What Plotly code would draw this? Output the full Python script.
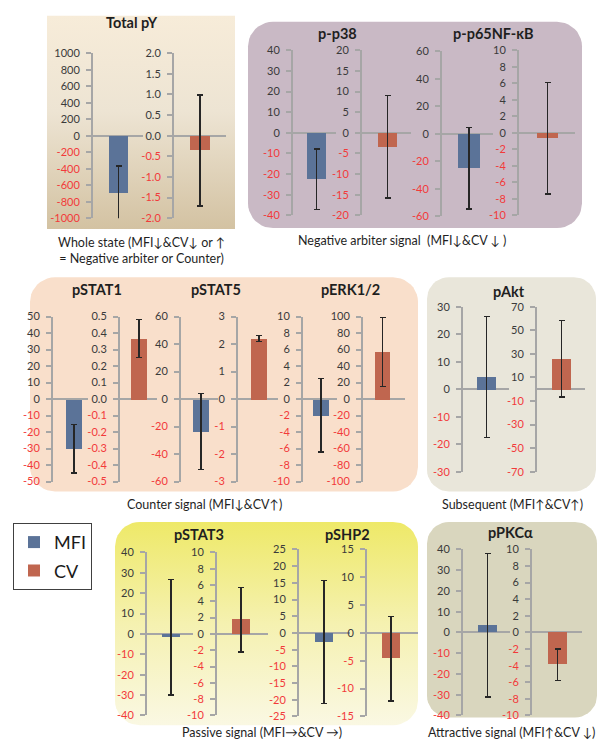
import math
import plotly.graph_objects as go

W, H = 601, 749

# ---------------- data ----------------
proteins = ["Total pY", "p-p38", "p-p65NF-κB", "pSTAT1", "pSTAT5",
            "pERK1/2", "pAkt", "pSTAT3", "pSHP2", "pPKCα"]
mfi_values = [-702, -22.5, -25, -30.1, -23.5, -1.95, 4.4, -1.7, -2.7, 3.4]
mfi_errors = [337, 14.6, 29.7, 14.6, 27.8, 4.45, 22, 28.3, 18.5, 34.5]
cv_values = [-0.355, -3.4, -0.65, 0.365, 2.2, 57, 26, 1.75, -4.6, -3.9]
cv_errors = [1.345, 12.4, 6.75, 0.115, 0.1, 42, 32.5, 3.95, 7.6, 1.9]

mfi_axis_max = [1000, 40, 60, 50, 60, 10, 30, 40, 25, 40]
mfi_tick_step = [200, 10, 20, 10, 20, 2, 10, 10, 5, 10]
mfi_decimals = [0, 0, 0, 0, 0, 0, 0, 0, 0, 0]
cv_axis_max = [2.0, 20, 10, 0.5, 3, 100, 70, 10, 15, 10]
cv_tick_step = [0.5, 5, 2, 0.1, 1, 20, 20, 2, 5, 2]
cv_decimals = [1, 0, 0, 1, 0, 0, 0, 0, 0, 0]

series_names = ["MFI", "CV"]
group_labels = [
    "Whole state (MFI↓&CV↓ or ↑<br>= Negative arbiter or Counter)",
    "Negative arbiter signal  (MFI↓&CV ↓ )",
    "Counter signal (MFI↓&CV↑)",
    "Subsequent (MFI↑&CV↑)",
    "Passive signal (MFI→&CV →)",
    "Attractive signal (MFI↑&CV ↓)",
]

# ---------------- layout geometry (pixels) ----------------
# per mini chart: axis x, zero-line end x, top y, bottom y, bar left, bar right
mfi_boxes = [
    (93, 143, 47, 215, 109, 128),
    (293, 336, 44, 212, 307, 326),
    (442, 493, 45, 213, 458, 480),
    (53, 88, 315, 483, 66, 82),
    (181, 218, 315, 483, 193, 209),
    (303, 337, 315, 483, 313, 329),
    (463, 509, 305, 473, 477, 496),
    (147, 193, 555, 721, 162, 180),
    (299, 350, 552, 722, 315, 333),
    (463, 510, 552, 721, 478, 497),
]
cv_boxes = [
    (174, 226, 47, 215, 190, 210),
    (362, 411, 44, 212, 378, 397),
    (519, 575, 44, 212, 537, 558),
    (120, 157, 315, 483, 131, 147),
    (238, 278, 315, 483, 251, 267),
    (363, 405, 315, 483, 375, 390),
    (537, 585, 305, 473, 552, 571),
    (217, 268, 555, 721, 232, 250),
    (367, 418, 552, 722, 382, 400),
    (532, 582, 552, 721, 548, 567),
]
title_pos = [(132, 16), (338, 27), (493, 27), (97, 287), (216, 287),
             (350, 287), (509, 290), (199, 537), (347, 537), (510, 535)]
group_pos = [(141, 248), (402, 238), (205, 506), (512, 506), (262, 738), (511, 738)]

panels = [  # x0, y0, x1, y1, radius, colors (bottom -> top)
    (47, 9, 235, 226, 0, [[0, "#d3c2a2"], [0.55, "#ede4d3"], [1, "#f7ecd9"]]),
    (248, 15, 582, 225, 25, "#c9b9c5"),
    (30, 275, 418, 493, 25, "#f9dfcb"),
    (427, 275, 596, 493, 22, "#e9e6da"),
    (115, 524, 418, 731, 25, [[0, "#faf8e3"], [0.5, "#f5f1b0"], [1, "#eee968"]]),
    (427, 524, 597, 723, 22, "#d9d6be"),
]

COL_MFI = "#5b7398"
COL_CV = "#c0664f"
AX_COL = "#a6a6a6"
POS_COL = "#3a3a3a"
NEG_COL = "#f23a3a"
FONT = "Lato, 'Open Sans', 'DejaVu Sans', sans-serif"


def rounded_rect(x0, y0, x1, y1, r, n=10):
    xs, ys = [], []
    if r <= 0:
        pts = [(x0, y0), (x1, y0), (x1, y1), (x0, y1), (x0, y0)]
        return [p[0] for p in pts], [H - p[1] for p in pts]
    corners = [((x1 - r, y0 + r), -90), ((x1 - r, y1 - r), 0),
               ((x0 + r, y1 - r), 90), ((x0 + r, y0 + r), 180)]
    for (cx, cy), a0 in corners:
        for i in range(n + 1):
            a = math.radians(a0 + 90 * i / n)
            xs.append(cx + r * math.cos(a))
            ys.append(H - (cy + r * math.sin(a)))
    xs.append(xs[0])
    ys.append(ys[0])
    return xs, ys


def fmt(v, d):
    s = f"{v:.{d}f}"
    if s.startswith("-") and float(s) == 0:
        s = s[1:]
    col = NEG_COL if v < -1e-9 else POS_COL
    return f'<span style="color:{col}">{s}</span>'


fig = go.Figure()

# background panels on a full-page hidden axis
for x0, y0, x1, y1, r, col in panels:
    xs, ys = rounded_rect(x0, y0, x1, y1, r)
    kw = dict(x=xs, y=ys, mode="lines", line=dict(width=0), fill="toself",
              hoverinfo="skip", showlegend=False, xaxis="x", yaxis="y")
    if isinstance(col, list):
        kw["fillgradient"] = dict(type="vertical", colorscale=col)
    else:
        kw["fillcolor"] = col
    fig.add_trace(go.Scatter(**kw))

layout = dict(
    width=W, height=H, margin=dict(l=0, r=0, t=0, b=0),
    paper_bgcolor="white", plot_bgcolor="rgba(0,0,0,0)",
    xaxis=dict(domain=[0, 1], range=[0, W], visible=False, fixedrange=True),
    yaxis=dict(domain=[0, 1], range=[0, H], visible=False, fixedrange=True),
    bargap=0, showlegend=True,
    legend=dict(x=13 / W, y=1 - 525 / H, xanchor="left", yanchor="top",
                bgcolor="white", bordercolor="#404040", borderwidth=1,
                font=dict(family=FONT, size=18, color="#1a1a1a"),
                itemwidth=30, tracegroupgap=2),
)

k = 2
for i, prot in enumerate(proteins):
    for j, (vals, errs, boxes, amax, step, dec, col) in enumerate([
        (mfi_values, mfi_errors, mfi_boxes, mfi_axis_max, mfi_tick_step, mfi_decimals, COL_MFI),
        (cv_values, cv_errors, cv_boxes, cv_axis_max, cv_tick_step, cv_decimals, COL_CV),
    ]):
        ax, end, top, bot, bl, br = boxes[i]
        D = end - ax
        cx = (bl + br) / 2
        fig.add_trace(go.Bar(
            x=[series_names[j]], y=[vals[i]], width=[(br - bl) / D],
            marker=dict(color=col, line=dict(width=0)),
            error_y=dict(type="data", array=[errs[i]], color="#262626",
                         thickness=1.3, width=3),
            name=series_names[j], legendgroup=series_names[j],
            showlegend=(i == 0), xaxis=f"x{k}", yaxis=f"y{k}",
            hovertemplate=f"{prot} {series_names[j]}: %{{y}}<extra></extra>",
        ))
        m = amax[i]
        n_steps = int(round(2 * m / step[i]))
        tv = [round(-m + step[i] * t, 6) for t in range(n_steps + 1)]
        layout[f"xaxis{k}"] = dict(
            domain=[ax / W, end / W], anchor=f"y{k}", visible=False,
            range=[-(cx - ax) / D, (end - cx) / D], fixedrange=True,
            type="category")
        layout[f"yaxis{k}"] = dict(
            domain=[1 - bot / H, 1 - top / H], anchor=f"x{k}",
            range=[-m, m], tickvals=tv, ticktext=[fmt(v, dec[i]) for v in tv],
            showline=True, linecolor=AX_COL, linewidth=2,
            ticks="outside", ticklen=5, tickwidth=1.5, tickcolor=AX_COL,
            showgrid=False, zeroline=True, zerolinecolor=AX_COL, zerolinewidth=2,
            tickfont=dict(family=FONT, size=11, color=POS_COL),
            ticklabelstandoff=4, fixedrange=True)
        k += 1

fig.update_layout(**layout)

for prot, (px, py) in zip(proteins, title_pos):
    fig.add_annotation(x=px / W, y=1 - py / H, xref="paper", yref="paper",
                       text=f"<b>{prot}</b>", showarrow=False,
                       font=dict(family=FONT, size=14.5, color="#1f1f1f"),
                       xanchor="center", yanchor="middle")
for lab, (px, py) in zip(group_labels, group_pos):
    fig.add_annotation(x=px / W, y=1 - py / H, xref="paper", yref="paper",
                       text=lab, showarrow=False,
                       font=dict(family=FONT, size=12.5, color="#1f1f1f"),
                       xanchor="center", yanchor="middle")

fig.write_html("out.html",
               config={"displayModeBar": False},
               post_script="document.body.style.margin='0';"
                           "document.body.style.overflow='hidden';")
